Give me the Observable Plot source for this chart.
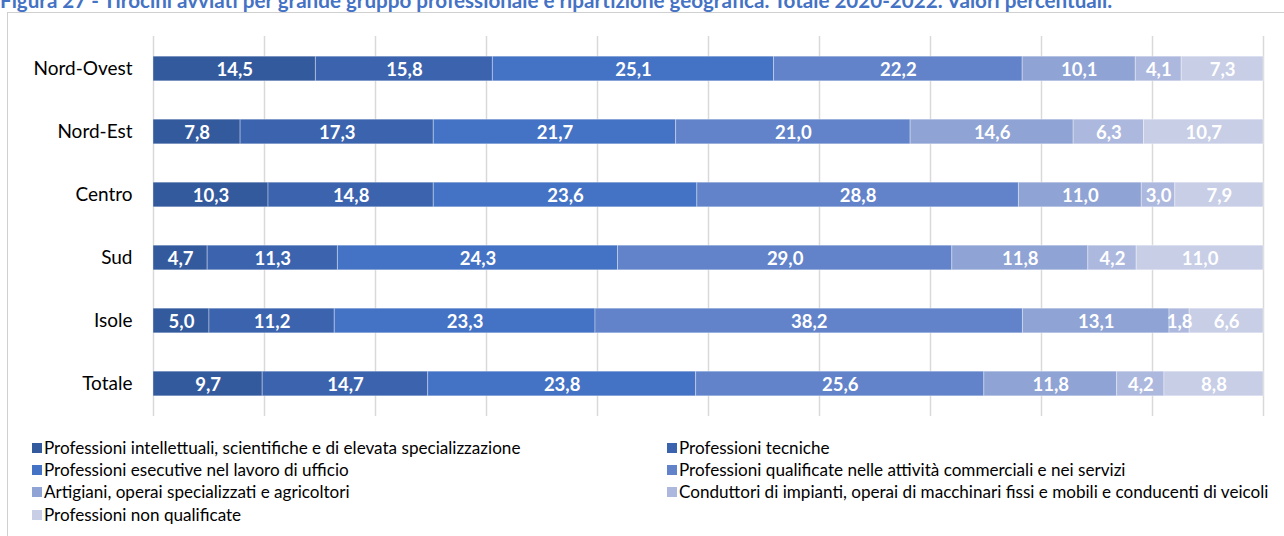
<!DOCTYPE html>
<html>
<head>
<meta charset="utf-8">
<script src="https://cdn.jsdelivr.net/npm/d3@7"></script>
<script src="https://cdn.jsdelivr.net/npm/@observablehq/plot@0.6"></script>
<style>
  html, body { margin: 0; padding: 0; background: #fff; }
  #wrap { position: relative; width: 1284px; height: 536px; overflow: hidden; font-family: Lato, "Open Sans", sans-serif; }
  #title { position: absolute; left: 0; top: -12px; white-space: nowrap; font-weight: 700; font-size: 20.6px; line-height: 25px; color: #4472C4; }
  #frame { position: absolute; left: 7px; top: 12px; width: 1300px; height: 600px; border-left: 1.5px solid #d0d0d0; border-top: 1.5px solid #d0d0d0; }
  #chart { position: absolute; left: 0; top: 0; }
  .leg { position: absolute; font-size: 17.1px; color: #000; white-space: nowrap; line-height: 20px; }
  .leg i { position: absolute; left: -12px; top: 5px; width: 10px; height: 10px; }
</style>
</head>
<body>
<div id="wrap">
  <div id="title">Figura 27 - Tirocini avviati per grande gruppo professionale e ripartizione geografica. Totale 2020-2022. Valori percentuali.</div>
  <div id="frame"></div>
  <div id="chart"></div>
  <div id="legend"></div>
</div>
<script>
const regions = ["Nord-Ovest", "Nord-Est", "Centro", "Sud", "Isole", "Totale"];
const categories = [
  "Professioni intellettuali, scientifiche e di elevata specializzazione",
  "Professioni tecniche",
  "Professioni esecutive nel lavoro di ufficio",
  "Professioni qualificate nelle attività commerciali e nei servizi",
  "Artigiani, operai specializzati e agricoltori",
  "Conduttori di impianti, operai di macchinari fissi e mobili e conducenti di veicoli",
  "Professioni non qualificate"
];
const colors = ["#345A9E", "#3C64AE", "#4472C4", "#6283CA", "#8FA3D4", "#ADB8DE", "#C7CEE6"];
// values per region, in category order
const nordOvest = [14.5, 15.8, 25.1, 22.2, 10.1, 4.1, 7.3];
const nordEst   = [7.8, 17.3, 21.7, 21.0, 14.6, 6.3, 10.7];
const centro    = [10.3, 14.8, 23.6, 28.8, 11.0, 3.0, 7.9];
const sud       = [4.7, 11.3, 24.3, 29.0, 11.8, 4.2, 11.0];
const isole     = [5.0, 11.2, 23.3, 38.2, 13.1, 1.8, 6.6];
const totale    = [9.7, 14.7, 23.8, 25.6, 11.8, 4.2, 8.8];
const gridTicks = [0, 10, 20, 30, 40, 50, 60, 70, 80, 90, 100];

const series = [nordOvest, nordEst, centro, sud, isole, totale];
const data = [];
regions.forEach((r, i) => series[i].forEach((v, j) => data.push({region: r, cat: categories[j], value: v, idx: j})));
const fmt = v => d3.format(".1f")(v).replace(".", ",");

const rowStep = 380 / regions.length;
const inset = (rowStep - 25) / 2;

const plot = Plot.plot({
  width: 1284,
  height: 430,
  marginLeft: 153,
  marginRight: 21,
  marginTop: 36,
  marginBottom: 14,
  x: {domain: [0, 1], axis: null},
  y: {domain: regions, padding: 0, label: null, axis: null},
  color: {domain: categories, range: colors},
  style: {fontFamily: "Lato, 'Open Sans', sans-serif", fontSize: "19px", color: "#000", background: "transparent", overflow: "visible"},
  marks: [
    Plot.ruleX(gridTicks.map(d => d / 100), {stroke: "#d9d9d9", strokeWidth: 1.5}),
    Plot.barX(data, Plot.stackX({x: "value", y: "region", fill: "cat", z: "idx", order: null, offset: "normalize", insetTop: inset, insetBottom: inset, stroke: "#ffffff", strokeOpacity: 0.35, strokeWidth: 1})),
    Plot.textX(data, Plot.stackX({x: "value", y: "region", z: "idx", order: null, offset: "normalize", text: d => fmt(d.value), fill: "white", fontWeight: "bold", fontSize: 18.5, dy: 1})),
    Plot.axisY({tickSize: 0, tickPadding: 21, fontSize: 19, fontWeight: "normal", fill: "#000", label: null})
  ]
});
document.getElementById("chart").appendChild(plot);

const legend = document.getElementById("legend");
const colX = [44, 679];
const rowY = [438, 460, 482, 505];
categories.forEach((c, k) => {
  const el = document.createElement("div");
  el.className = "leg";
  el.style.left = colX[k % 2] + "px";
  el.style.top = rowY[Math.floor(k / 2)] + "px";
  const sw = document.createElement("i");
  sw.style.background = colors[k];
  el.appendChild(sw);
  el.appendChild(document.createTextNode(c));
  legend.appendChild(el);
});
</script>
</body>
</html>
